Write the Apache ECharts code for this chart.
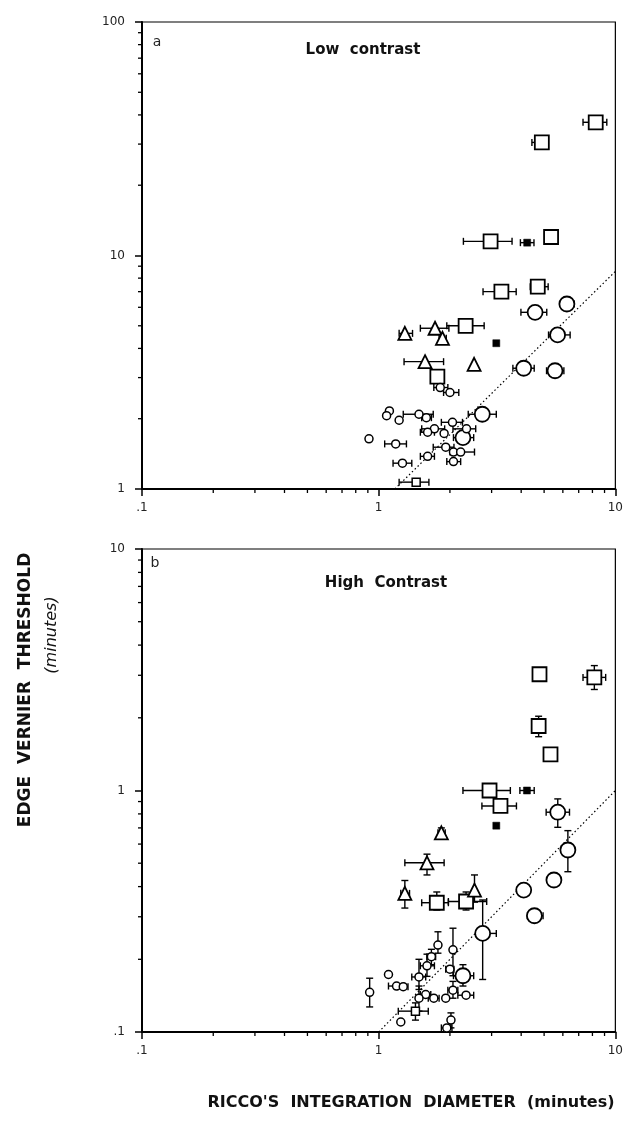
<!DOCTYPE html>
<html>
<head>
<meta charset="utf-8">
<script src="https://cdn.jsdelivr.net/npm/echarts@6/dist/echarts.min.js"></script>
<style>
  html, body { margin: 0; padding: 0; background: #fff; }
  #main { width: 626px; height: 1125px; }
</style>
</head>
<body>
<div id="main"></div>
<script>
// rows: [x, y, xLow, xHigh, yLow, yHigh]  (null = no error bar on that side)

// ---- panel a : low contrast ----
var aBigSquares = [
  [8.26, 37.2, 7.3, 9.2, null, null],
  [4.89, 30.5, 4.44, null, null, null],
  [2.97, 11.5, 2.28, 3.66, null, null],
  [5.35, 12.0, 5.05, null, null, null],
  [3.30, 7.0, 2.76, 3.81, null, null],
  [4.70, 7.35, 4.37, 5.20, null, null],
  [2.33, 5.0, 1.94, 2.79, null, null],
  [1.77, 3.03, 1.70, 1.85, null, null]
];
var aFilledSquares = [
  [4.24, 11.35, 3.97, 4.53, null, null],
  [3.14, 4.21, null, null, null, null]
];
var aBigCircles = [
  [6.24, 6.2, null, 6.7, null, null],
  [4.58, 5.71, 3.99, 5.13, null, null],
  [5.70, 4.57, 5.22, 6.44, null, null],
  [4.10, 3.29, 3.69, 4.54, null, null],
  [5.56, 3.21, 5.12, 6.06, null, null],
  [2.74, 2.09, 2.39, 3.14, null, null],
  [2.27, 1.66, 2.07, 2.52, null, null]
];
var aTriangles = [
  [1.73, 4.88, 1.50, 1.98, null, null],
  [1.29, 4.64, 1.22, 1.39, null, null],
  [1.86, 4.42, 1.80, 1.93, null, null],
  [1.57, 3.51, 1.28, 1.88, null, null],
  [2.53, 3.42, null, null, null, null]
];
var aSmallCircles = [
  [1.82, 2.72, 1.71, 1.96, null, null],
  [2.00, 2.59, 1.88, 2.18, null, null],
  [1.11, 2.16, null, null, null, null],
  [1.08, 2.06, null, null, null, null],
  [1.22, 1.97, null, null, null, null],
  [1.48, 2.09, 1.27, 1.70, null, null],
  [1.59, 2.02, 1.52, 1.67, null, null],
  [2.05, 1.93, 1.84, 2.26, null, null],
  [1.72, 1.81, 1.52, 1.90, null, null],
  [1.61, 1.75, 1.50, 1.72, null, null],
  [1.89, 1.73, null, null, null, null],
  [2.35, 1.81, 2.06, 2.57, null, null],
  [0.91, 1.64, null, null, null, null],
  [1.18, 1.56, 1.06, 1.31, null, null],
  [1.92, 1.51, 1.70, 2.08, null, null],
  [2.07, 1.44, null, null, null, null],
  [2.22, 1.44, 2.00, 2.54, null, null],
  [1.61, 1.38, 1.50, 1.72, null, null],
  [1.26, 1.29, 1.15, 1.38, null, null],
  [2.07, 1.31, 1.94, 2.22, null, null]
];
var aSmallSquares = [
  [1.44, 1.07, 1.22, 1.63, null, null]
];
var aDiagonal = [[1.17, 1], [10, 8.55]];

// ---- panel b : high contrast ----
var bBigSquares = [
  [4.78, 3.03, null, null, null, null],
  [8.15, 2.94, 7.3, 9.1, 2.62, 3.29],
  [4.74, 1.85, 4.5, 5.0, 1.67, 2.03],
  [5.32, 1.41, null, null, null, null],
  [2.94, 1.0, 2.27, 3.60, null, null],
  [3.27, 0.863, 2.73, 3.82, null, null],
  [1.76, 0.343, 1.52, 1.97, 0.32, 0.38],
  [2.34, 0.347, 1.97, 2.86, 0.32, 0.38]
];
var bFilledSquares = [
  [4.23, 1.0, 3.95, 4.54, null, null],
  [3.14, 0.715, null, null, null, null]
];
var bBigCircles = [
  [5.71, 0.813, 5.1, 6.4, 0.704, 0.923],
  [6.30, 0.567, null, null, 0.461, 0.682],
  [4.10, 0.387, 3.85, 4.35, null, null],
  [5.50, 0.426, 5.3, 5.7, null, null],
  [4.55, 0.303, 4.25, 4.95, null, null],
  [2.75, 0.256, 2.58, 3.14, 0.165, 0.352],
  [2.27, 0.171, 2.07, 2.52, 0.155, 0.19]
];
var bTriangles = [
  [1.84, 0.668, 1.78, 1.91, 0.64, 0.70],
  [1.60, 0.502, 1.29, 1.89, 0.447, 0.545],
  [1.29, 0.375, 1.24, 1.35, 0.326, 0.424],
  [2.54, 0.387, null, null, 0.345, 0.447]
];
var bSmallCircles = [
  [1.78, 0.229, null, null, 0.212, 0.26],
  [2.06, 0.219, null, null, 0.171, 0.269],
  [1.67, 0.205, 1.6, 1.74, 0.19, 0.22],
  [1.60, 0.188, 1.50, 1.72, 0.17, 0.21],
  [2.00, 0.182, 1.92, 2.08, null, null],
  [1.10, 0.173, null, null, null, null],
  [1.48, 0.169, 1.38, 1.58, 0.15, 0.2],
  [1.19, 0.155, 1.10, 1.28, null, null],
  [1.27, 0.154, 1.2, 1.33, null, null],
  [0.916, 0.146, null, null, 0.127, 0.167],
  [1.58, 0.143, 1.5, 1.66, null, null],
  [1.71, 0.138, 1.62, 1.80, null, null],
  [1.92, 0.138, null, null, null, null],
  [2.06, 0.149, 1.96, 2.16, 0.138, 0.162],
  [2.34, 0.142, 2.16, 2.52, null, null],
  [1.48, 0.138, null, null, 0.122, 0.155],
  [1.24, 0.110, null, null, null, null],
  [2.02, 0.112, null, null, 0.104, 0.12],
  [1.94, 0.104, 1.84, 2.04, null, null]
];
var bSmallSquares = [
  [1.43, 0.122, 1.21, 1.62, 0.112, 0.132]
];
var bDiagonal = [[1, 0.1], [10, 1]];

// axis minor tick positions
var xMinor = [0.2, 0.3, 0.4, 0.5, 0.6, 0.7, 0.8, 0.9, 2, 3, 4, 5, 6, 7, 8, 9];
var aYMinor = [2, 3, 4, 5, 6, 7, 8, 9, 20, 30, 40, 50, 60, 70, 80, 90];
var bYMinor = [0.2, 0.3, 0.4, 0.5, 0.6, 0.7, 0.8, 0.9, 2, 3, 4, 5, 6, 7, 8, 9];

var FONT = 'DejaVu Sans';

function tickLabel(v) {
  if (v < 0.5) return '.1';
  return String(Math.round(v));
}

function makeX(g) {
  return {
    type: 'log', logBase: 10, gridIndex: g, min: 0.1, max: 10,
    axisLine: { lineStyle: { color: '#000', width: 2 } },
    axisTick: { inside: false, length: 7, lineStyle: { color: '#000', width: 1.5 } },
    axisLabel: { formatter: tickLabel, color: '#222', fontFamily: FONT, fontSize: 12, margin: 13 },
    splitLine: { show: false }
  };
}
function makeY(g, lo, hi) {
  return {
    type: 'log', logBase: 10, gridIndex: g, min: lo, max: hi,
    axisLine: { lineStyle: { color: '#000', width: 2 } },
    axisTick: { inside: false, length: 7, lineStyle: { color: '#000', width: 1.5 } },
    axisLabel: { formatter: tickLabel, color: '#222', fontFamily: FONT, fontSize: 12, margin: 17 },
    splitLine: { show: false }
  };
}

function errorBars(rows, g) {
  return {
    type: 'custom', xAxisIndex: g, yAxisIndex: g, silent: true, z: 2,
    data: rows.map(function (r) { return [r[0], r[1]]; }),
    renderItem: function (params, api) {
      var r = rows[params.dataIndex];
      var c = api.coord([r[0], r[1]]);
      var st = { stroke: '#000', lineWidth: 1.4 };
      var cap = 3.5;
      var kids = [];
      if (r[2] != null || r[3] != null) {
        var x1 = r[2] != null ? api.coord([r[2], r[1]])[0] : c[0];
        var x2 = r[3] != null ? api.coord([r[3], r[1]])[0] : c[0];
        kids.push({ type: 'line', shape: { x1: x1, y1: c[1], x2: x2, y2: c[1] }, style: st });
        if (r[2] != null) kids.push({ type: 'line', shape: { x1: x1, y1: c[1] - cap, x2: x1, y2: c[1] + cap }, style: st });
        if (r[3] != null) kids.push({ type: 'line', shape: { x1: x2, y1: c[1] - cap, x2: x2, y2: c[1] + cap }, style: st });
      }
      if (r[4] != null || r[5] != null) {
        var y1 = r[4] != null ? api.coord([r[0], r[4]])[1] : c[1];
        var y2 = r[5] != null ? api.coord([r[0], r[5]])[1] : c[1];
        kids.push({ type: 'line', shape: { x1: c[0], y1: y1, x2: c[0], y2: y2 }, style: st });
        if (r[4] != null) kids.push({ type: 'line', shape: { x1: c[0] - cap, y1: y1, x2: c[0] + cap, y2: y1 }, style: st });
        if (r[5] != null) kids.push({ type: 'line', shape: { x1: c[0] - cap, y1: y2, x2: c[0] + cap, y2: y2 }, style: st });
      }
      return { type: 'group', children: kids };
    }
  };
}

function minorTicks(xs, ys, xMin, yMin, g) {
  var items = xs.map(function (v) { return [v, yMin, 0]; })
    .concat(ys.map(function (v) { return [xMin, v, 1]; }));
  return {
    type: 'custom', xAxisIndex: g, yAxisIndex: g, silent: true, z: 3,
    data: items,
    renderItem: function (params, api) {
      var p = api.coord([api.value(0), api.value(1)]);
      var st = { stroke: '#000', lineWidth: 1.3 };
      if (api.value(2) === 0) {
        return { type: 'line', shape: { x1: p[0], y1: p[1], x2: p[0], y2: p[1] + 4 }, style: st };
      }
      return { type: 'line', shape: { x1: p[0] - 4, y1: p[1], x2: p[0], y2: p[1] }, style: st };
    }
  };
}

function marks(rows, g, symbol, size, fill, bw) {
  return {
    type: 'scatter', xAxisIndex: g, yAxisIndex: g, z: 4, silent: true,
    symbol: symbol, symbolSize: size,
    itemStyle: { color: fill, borderColor: '#000', borderWidth: bw, opacity: 1 },
    data: rows.map(function (r) { return [r[0], r[1]]; })
  };
}

function diagonal(pts, g) {
  return {
    type: 'line', xAxisIndex: g, yAxisIndex: g, z: 1, silent: true,
    showSymbol: false, symbol: 'none',
    lineStyle: { color: '#000', width: 1.2, type: [1.5, 2.5] },
    data: pts
  };
}

var series = [];
[[0, aBigSquares, aFilledSquares, aBigCircles, aTriangles, aSmallCircles, aSmallSquares, aDiagonal],
 [1, bBigSquares, bFilledSquares, bBigCircles, bTriangles, bSmallCircles, bSmallSquares, bDiagonal]
].forEach(function (p) {
  var g = p[0];
  series.push(diagonal(p[7], g));
  for (var i = 1; i <= 6; i++) series.push(errorBars(p[i], g));
  series.push(marks(p[1], g, 'rect', 14, '#fff', 1.8));
  series.push(marks(p[2], g, 'rect', 7, '#000', 0.5));
  series.push(marks(p[3], g, 'circle', 15, '#fff', 1.8));
  series.push(marks(p[4], g, 'triangle', 13, '#fff', 1.8));
  series.push(marks(p[5], g, 'circle', 8, '#fff', 1.5));
  series.push(marks(p[6], g, 'rect', 8, '#fff', 1.5));
});
series.push(minorTicks(xMinor, aYMinor, 0.1, 1, 0));
series.push(minorTicks(xMinor, bYMinor, 0.1, 0.1, 1));

var option = {
  backgroundColor: '#fff',
  animation: false,
  grid: [
    { left: 142, top: 22, width: 476, height: 467, show: true, borderColor: '#000', borderWidth: 1.2 },
    { left: 142, top: 549, width: 474, height: 483, show: true, borderColor: '#000', borderWidth: 1.2 }
  ],
  xAxis: [makeX(0), makeX(1)],
  yAxis: [makeY(0, 1, 100), makeY(1, 0.1, 10)],
  series: series,
  graphic: [
    { type: 'text', x: 157, y: 42, style: { text: 'a', font: '14px ' + FONT, fill: '#222', align: 'center', verticalAlign: 'middle' } },
    { type: 'text', x: 155, y: 563, style: { text: 'b', font: '14px ' + FONT, fill: '#222', align: 'center', verticalAlign: 'middle' } },
    { type: 'text', x: 363, y: 50, style: { text: 'Low  contrast', font: 'bold 15px ' + FONT, fill: '#111', align: 'center', verticalAlign: 'middle' } },
    { type: 'text', x: 386, y: 583, style: { text: 'High  Contrast', font: 'bold 15px ' + FONT, fill: '#111', align: 'center', verticalAlign: 'middle' } },
    { type: 'text', x: 26, y: 690, rotation: Math.PI / 2, style: { text: 'EDGE  VERNIER  THRESHOLD', font: 'bold 17px ' + FONT, fill: '#111', align: 'center', verticalAlign: 'middle' } },
    { type: 'text', x: 52, y: 635, rotation: Math.PI / 2, style: { text: '(minutes)', font: 'italic 16px ' + FONT, fill: '#111', align: 'center', verticalAlign: 'middle' } },
    { type: 'text', x: 411, y: 1103, style: { text: "RICCO'S  INTEGRATION  DIAMETER  (minutes)", font: 'bold 16px ' + FONT, fill: '#111', align: 'center', verticalAlign: 'middle' } }
  ]
};

var chart = echarts.init(document.getElementById('main'));
chart.setOption(option);
</script>
</body>
</html>
